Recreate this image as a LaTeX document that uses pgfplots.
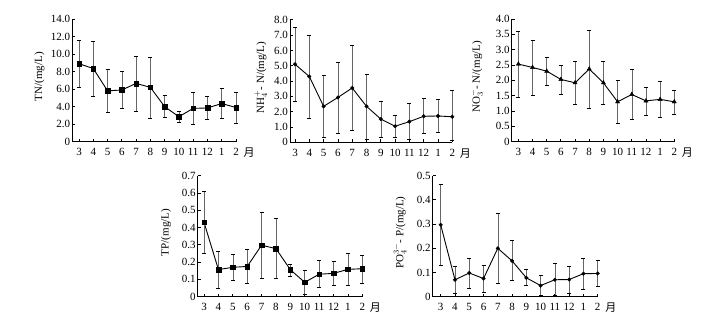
\documentclass[border=0pt]{standalone}
\usepackage{fontspec}
\setmainfont{Liberation Serif}
\newfontfamily\cjk{Noto Sans CJK SC}
\usepackage{pgfplots}
\pgfplotsset{compat=1.18}
\usepackage{pgfplotstable}

\pgfplotstableread{
x y top bot
0 8.9 11.6 6.2
1 8.35 11.5 5.15
2 5.8 8.3 3.3
3 5.9 8.05 3.8
4 6.65 9.7 3.5
5 6.2 9.65 2.7
6 4.0 5.25 2.75
7 2.85 3.5 2.2
8 3.8 5.65 2.0
9 3.85 5.15 2.5
10 4.35 6.1 2.7
11 3.9 5.6 2.15
}\tn
\pgfplotstableread{
x y top bot
0 5.1 7.5 2.65
1 4.3 7.0 1.55
2 2.35 4.35 0.3
3 2.93 5.24 0.6
4 3.55 6.35 0.8
5 2.35 4.43 0.22
6 1.52 2.67 0.35
7 1.05 1.76 0.35
8 1.35 2.52 0.2
9 1.7 2.85 0.57
10 1.72 2.8 0.67
11 1.67 3.38 0.15
}\nh
\pgfplotstableread{
x y top bot
0 2.53 3.61 1.45
1 2.42 3.32 1.52
2 2.3 2.75 1.85
3 2.03 2.5 1.56
4 1.92 2.62 1.22
5 2.37 3.64 1.09
6 1.92 2.62 1.23
7 1.3 1.99 0.6
8 1.54 2.36 0.73
9 1.33 1.78 0.87
10 1.38 1.98 0.81
11 1.3 1.68 0.89
}\no
\pgfplotstableread{
x y top bot
0 0.43 0.607 0.25
1 0.157 0.26 0.05
2 0.17 0.248 0.095
3 0.175 0.276 0.078
4 0.298 0.49 0.106
5 0.278 0.455 0.106
6 0.156 0.19 0.118
7 0.083 0.152 0.015
8 0.13 0.21 0.055
9 0.135 0.207 0.065
10 0.158 0.25 0.066
11 0.162 0.242 0.076
}\tp
\pgfplotstableread{
x y top bot
0 0.297 0.466 0.128
1 0.07 0.124 0.015
2 0.098 0.16 0.035
3 0.075 0.13 0.02
4 0.2 0.345 0.055
5 0.148 0.232 0.066
6 0.078 0.112 0.046
7 0.046 0.09 0.005
8 0.07 0.14 0.005
9 0.071 0.124 0.015
10 0.095 0.157 0.032
11 0.096 0.15 0.043
}\po

\pgfplotsset{
  myaxis/.style={
    scale only axis, anchor=south west,
    axis lines=left, axis line style={line width=0.8pt, -},
    xmax=11, ymin=0,
    xtick={0,...,11}, xticklabels={3,4,5,6,7,8,9,10,11,12,1,2},
    tick align=inside, major tick length=3pt,
    tick style={line width=0.8pt, black},
    font=\fontsize{11}{13}\selectfont,
    xticklabel style={yshift=-3pt, inner xsep=0pt},
    yticklabel style={inner xsep=2pt},
    clip=false,
    extra description/.code={\node[anchor=west, inner sep=0pt] at (1.045,-0.09) {\cjk 月};},
  },
  myplot/.style={
    black, solid, line width=0.9pt,
    mark options={solid, line width=0.4pt, fill=black},
    error bars/y dir=both, error bars/y explicit,
    error bars/error bar style={line width=0.5pt, black!60},
    error bars/error mark options={rotate=90, black, mark size=2pt, line width=0.6pt},
  },
}

\begin{document}
\begin{tikzpicture}
\path[use as bounding box] (0pt,0pt) rectangle (702pt,323pt);

\begin{axis}[myaxis, at={(72.3pt,181.3pt)}, width=163.7pt, height=122.7pt,
  xmin=-0.47, ymax=14,
  ytick={0,2,...,14}, yticklabels={0,2.0,4.0,6.0,8.0,10.0,12.0,14.0},
  ylabel={TN/(mg/L)},
  ylabel style={at={(axis description cs:-0.2,0.53)}, anchor=center}]
\addplot[myplot, mark=square*, mark size=2.3pt] table[x=x, y=y,
  y error plus expr=\thisrow{top}-\thisrow{y},
  y error minus expr=\thisrow{y}-\thisrow{bot}] {\tn};
\end{axis}

\begin{axis}[myaxis, at={(290pt,180.7pt)}, width=162.3pt, height=122.4pt,
  xmin=-0.35, ymax=8,
  ytick={0,1,...,8}, yticklabels={0,1.0,2.0,3.0,4.0,5.0,6.0,7.0,8.0},
  ylabel={NH$_4^+$- N/(mg/L)},
  ylabel style={at={(axis description cs:-0.18,0.53)}, anchor=center}]
\addplot[myplot, mark=*, mark size=1.8pt] table[x=x, y=y,
  y error plus expr=\thisrow{top}-\thisrow{y},
  y error minus expr=\thisrow{y}-\thisrow{bot}] {\nh};
\end{axis}

\begin{axis}[myaxis, at={(511.7pt,181.3pt)}, width=162.6pt, height=122.7pt,
  xmin=-0.47, ymax=4,
  ytick={0,0.5,...,4}, yticklabels={0,0.5,1.0,1.5,2.0,2.5,3.0,3.5,4.0},
  ylabel={NO$_3^-$- N/(mg/L)},
  ylabel style={at={(axis description cs:-0.215,0.53)}, anchor=center}]
\addplot[myplot, mark=triangle*, mark size=2.4pt] table[x=x, y=y,
  y error plus expr=\thisrow{top}-\thisrow{y},
  y error minus expr=\thisrow{y}-\thisrow{bot}] {\no};
\end{axis}

\begin{axis}[myaxis, at={(197.7pt,26.3pt)}, width=164.6pt, height=121pt,
  xmin=-0.44, ymax=0.7,
  ytick={0,0.1,...,0.7}, yticklabels={0,0.1,0.2,0.3,0.4,0.5,0.6,0.7},
  ylabel={TP/(mg/L)},
  ylabel style={at={(axis description cs:-0.193,0.53)}, anchor=center}]
\addplot[myplot, mark=square*, mark size=2.3pt] table[x=x, y=y,
  y error plus expr=\thisrow{top}-\thisrow{y},
  y error minus expr=\thisrow{y}-\thisrow{bot}] {\tp};
\end{axis}

\begin{axis}[myaxis, at={(432.7pt,26.3pt)}, width=165pt, height=121pt,
  xmin=-0.56, ymax=0.5,
  ytick={0,0.1,...,0.5}, yticklabels={0,0.1,0.2,0.3,0.4,0.5},
  ylabel={PO$_4^{3-}$- P/(mg/L)},
  ylabel style={at={(axis description cs:-0.198,0.53)}, anchor=center}]
\addplot[myplot, mark=*, mark size=1.8pt] table[x=x, y=y,
  y error plus expr=\thisrow{top}-\thisrow{y},
  y error minus expr=\thisrow{y}-\thisrow{bot}] {\po};
\end{axis}
\end{tikzpicture}
\end{document}
